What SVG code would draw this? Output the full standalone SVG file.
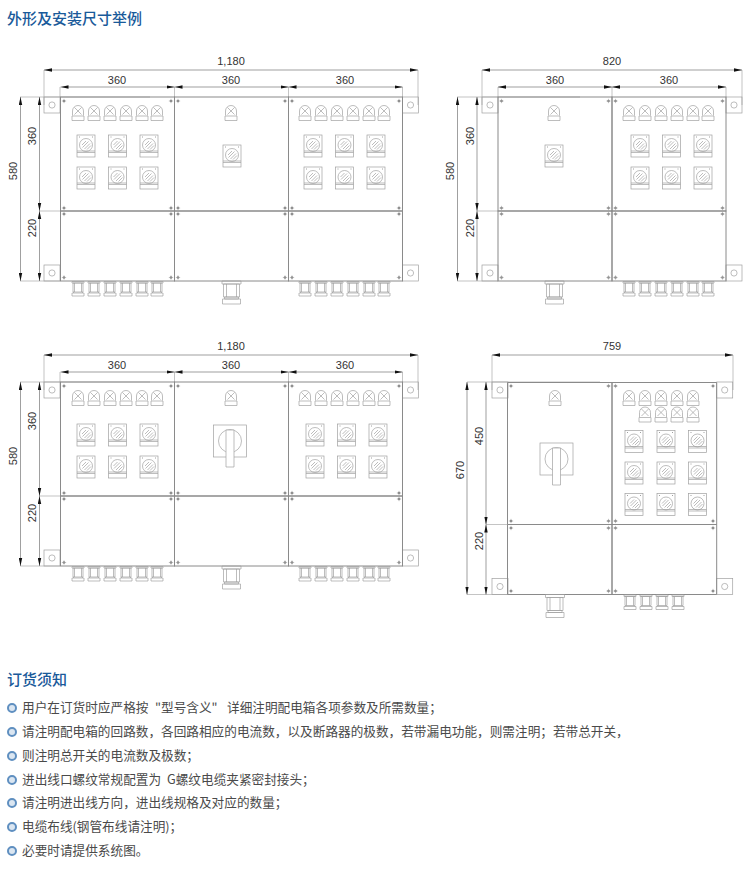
<svg xmlns="http://www.w3.org/2000/svg" width="750" height="871" viewBox="0 0 750 871">
<style>
text{font-family:"Liberation Sans","Noto Sans CJK SC",sans-serif}
.h{font-size:15px;font-weight:500;fill:#1a5a9a;font-family:"Noto Sans CJK SC",sans-serif}
.t{font-size:12.65px;fill:#4a4a4a;font-family:"Noto Sans CJK SC",sans-serif}
.d{font-size:11px;fill:#333;text-anchor:middle}
.s{fill:none;stroke:#a0a0a0;stroke-width:.7}
.f{fill:none;stroke:#8a8a8a;stroke-width:1}
.e{fill:none;stroke:#aaa;stroke-width:.7}
.m{fill:none;stroke:#777;stroke-width:.7;marker-start:url(#a);marker-end:url(#a)}
.o{fill:#dbe6f1;stroke:#5f8fc0;stroke-width:2}
</style>
<defs>
<marker id="a" viewBox="0 0 8 4" refX="8" refY="2" markerWidth="8" markerHeight="4" markerUnits="userSpaceOnUse" orient="auto-start-reverse"><path d="M0 .3L8 2L0 3.7z" fill="#111"/></marker>
<g id="lamp" class="s"><path d="M-5.500 10V5.500a5.500 5.500 0 0 1 11 0V10"/><path d="M-6 10.500h12V15H-6zM-3.500 2l7 7M3.500 2l-7 7"/></g>
<g id="brk" class="s"><rect x="-9" width="18" height="22"/><circle cy="10" r="6.500"/><path d="M-3.500 12.500l6-6M-4 10l4-4M-1.500 14l5.500-5.500M1 14.500l4-4M-9 16h18M-9 17.500h18"/><path d="M-7 2h1M6 2h1" stroke-width="1"/></g>
<g id="gl" class="s"><path d="M-6 .5h12v1.500H-6zM-5 2h10v9H-5zM-3.500 2v9M3.500 2v9M-4 11l-1 1M4 11l1 1M-6 12h12v3H-6z"/></g>
<g id="gb" class="s"><path d="M-9.500 0h19v3h-19zM-8 3H8v13H-8zM-5 3v13M5 3v13M-7 16h14v2H-7zM-9 18H9v5H-9z"/></g>
<g id="sc"><circle r="1.300" fill="#888"/><path d="M-2.200 0h4.400M0-2.200v4.400" stroke="#999" stroke-width=".5"/></g>
<g id="lug" class="s"><rect x="-8" y="-8" width="16" height="16"/><circle r="3.100"/></g>
<g id="rot" class="s"><rect x="-16.500" y="-16" width="33" height="32"/><circle r="11.500"/><path d="M-4-11H4V26H-4z" fill="#fff"/></g>
<g id="cell"><rect class="f" width="114" height="114"/><rect class="f" y="114" width="114" height="70"/><use href="#sc" x="3.500" y="4"/><use href="#sc" x="110.500" y="4"/><use href="#sc" x="3.500" y="111"/><use href="#sc" x="110.500" y="111"/><use href="#sc" x="3.500" y="117"/><use href="#sc" x="110.500" y="117"/><use href="#sc" x="3.500" y="180.500"/><use href="#sc" x="110.500" y="180.500"/></g>
<g id="six"><use href="#lamp" x="0"/><use href="#lamp" x="16"/><use href="#lamp" x="32"/><use href="#lamp" x="48"/><use href="#lamp" x="64"/><use href="#lamp" x="79"/></g>
<g id="gl6"><use href="#gl" x="0"/><use href="#gl" x="16"/><use href="#gl" x="32"/><use href="#gl" x="48"/><use href="#gl" x="64"/><use href="#gl" x="79"/></g>
<g id="b6"><use href="#brk" x="0" y="0"/><use href="#brk" x="31.500" y="0"/><use href="#brk" x="63" y="0"/><use href="#brk" x="0" y="32"/><use href="#brk" x="31.500" y="32"/><use href="#brk" x="63" y="32"/></g>
</defs>

<text class="h" x="7" y="24">外形及安装尺寸举例</text>

<g id="connectors">
<path class="e" d="M44 70V105M60 87V97M174.500 87V97M288.500 87V97M402.500 87V97M418 70V105M20 97H150M39.500 211H60M20 281H60"/>
<path class="m" d="M44 70H418"/><path class="m" d="M60.500 87H174.500"/><path class="m" d="M174.500 87H288.500"/><path class="m" d="M288.500 87H402.500"/>
<path class="m" d="M20.500 97V281"/><path class="m" d="M39.500 97V211"/><path class="m" d="M39.500 211V281"/>
<path class="e" d="M482 70V105M498 87V97M612 87V97M726 87V97M742 70V105M457 97H580M477 211H498M457 281H498"/>
<path class="m" d="M482 70H742"/><path class="m" d="M498 87H612"/><path class="m" d="M612 87H726"/>
<path class="m" d="M457.500 97V281"/><path class="m" d="M477 97V211"/><path class="m" d="M477 211V281"/>
<path class="e" d="M44 355V390M60 372V382M174.500 372V382M288.500 372V382M402.500 372V382M418 355V390M20 382H150M39.500 496H60M20 566H60"/>
<path class="m" d="M44 355H418"/><path class="m" d="M60.500 372H174.500"/><path class="m" d="M174.500 372H288.500"/><path class="m" d="M288.500 372H402.500"/>
<path class="m" d="M20.500 382V566"/><path class="m" d="M39.500 382V496"/><path class="m" d="M39.500 496V566"/>
<path class="e" d="M492 355V390M733 355V390M467 382H600M486 524.500H507M467 594.500H507"/>
<path class="m" d="M492 355H733"/>
<path class="m" d="M467 382V594.500"/><path class="m" d="M486 382V524.500"/><path class="m" d="M486 524.500V594.500"/>
</g>

<g id="dims">
<text class="d" x="231" y="65">1,180</text><text class="d" x="117" y="84">360</text><text class="d" x="231" y="84">360</text><text class="d" x="345" y="84">360</text>
<text class="d" transform="translate(36 136) rotate(-90)">360</text><text class="d" transform="translate(36 228) rotate(-90)">220</text><text class="d" transform="translate(17 171) rotate(-90)">580</text>
<text class="d" x="612" y="65">820</text><text class="d" x="555" y="84">360</text><text class="d" x="669" y="84">360</text>
<text class="d" transform="translate(473.500 136) rotate(-90)">360</text><text class="d" transform="translate(473.500 228) rotate(-90)">220</text><text class="d" transform="translate(454 171) rotate(-90)">580</text>
<text class="d" x="231" y="350">1,180</text><text class="d" x="117" y="369">360</text><text class="d" x="231" y="369">360</text><text class="d" x="345" y="369">360</text>
<text class="d" transform="translate(36 421) rotate(-90)">360</text><text class="d" transform="translate(36 513) rotate(-90)">220</text><text class="d" transform="translate(17 456) rotate(-90)">580</text>
<text class="d" x="612" y="350">759</text>
<text class="d" transform="translate(483 436) rotate(-90)">450</text><text class="d" transform="translate(483 541) rotate(-90)">220</text><text class="d" transform="translate(464 470) rotate(-90)">670</text>
</g>

<g id="cabinet-1">
<use href="#lug" x="52" y="105"/><use href="#lug" x="52" y="273"/><use href="#lug" x="410.500" y="105"/><use href="#lug" x="410.500" y="273"/>
<use href="#cell" x="60.500" y="97"/><use href="#cell" x="174.500" y="97"/><use href="#cell" x="288.500" y="97"/>
<use href="#six" x="78" y="105.500"/><use href="#b6" x="86" y="135"/>
<use href="#lamp" x="231" y="105.500"/><use href="#brk" x="232" y="145"/>
<use href="#six" x="305" y="105.500"/><use href="#b6" x="313" y="135"/>
<use href="#gl6" x="78" y="281"/><use href="#gb" x="231.500" y="281"/><use href="#gl6" x="305" y="281"/>
</g>

<g id="cabinet-2">
<use href="#lug" x="490" y="105"/><use href="#lug" x="490" y="273"/><use href="#lug" x="734" y="105"/><use href="#lug" x="734" y="273"/>
<use href="#cell" x="498" y="97"/><use href="#cell" x="612" y="97"/>
<use href="#lamp" x="554" y="105.500"/><use href="#brk" x="554" y="145"/>
<use href="#six" x="629" y="105.500"/><use href="#b6" x="640" y="135"/>
<use href="#gb" x="554.500" y="281"/><use href="#gl6" x="629" y="281"/>
</g>

<g id="cabinet-3">
<use href="#lug" x="52" y="390"/><use href="#lug" x="52" y="558"/><use href="#lug" x="410.500" y="390"/><use href="#lug" x="410.500" y="558"/>
<use href="#cell" x="60.500" y="382"/><use href="#cell" x="174.500" y="382"/><use href="#cell" x="288.500" y="382"/>
<use href="#six" x="78" y="390.500"/><use href="#b6" x="86" y="424"/>
<use href="#lamp" x="231" y="390.500"/><use href="#rot" x="230" y="441"/>
<use href="#six" x="305" y="390.500"/><use href="#b6" x="315" y="424"/>
<use href="#gl6" x="78" y="566"/><use href="#gb" x="231.500" y="566"/><use href="#gl6" x="305" y="566"/>
</g>

<g id="cabinet-4">
<use href="#lug" x="500" y="390"/><use href="#lug" x="500" y="586.500"/><use href="#lug" x="724.700" y="390"/><use href="#lug" x="724.700" y="586.500"/>
<path class="f" d="M507.500 382.500H612V524.500H507.500zM612 382.500H716.700V524.500H612zM507.500 524.500H612V594.500H507.500zM612 524.500H716.700V594.500H612z"/>
<use href="#sc" x="511" y="386"/><use href="#sc" x="608.500" y="386"/><use href="#sc" x="615.500" y="386"/><use href="#sc" x="713" y="386"/>
<use href="#sc" x="511" y="521"/><use href="#sc" x="608.500" y="521"/><use href="#sc" x="615.500" y="521"/><use href="#sc" x="713" y="521"/>
<use href="#sc" x="511" y="528"/><use href="#sc" x="608.500" y="528"/><use href="#sc" x="615.500" y="528"/><use href="#sc" x="713" y="528"/>
<use href="#sc" x="511" y="591"/><use href="#sc" x="608.500" y="591"/><use href="#sc" x="615.500" y="591"/><use href="#sc" x="713" y="591"/>
<use href="#lamp" x="555" y="390.500"/><use href="#rot" x="556.500" y="459"/>
<use href="#lamp" x="629" y="390.500"/><use href="#lamp" x="645" y="390.500"/><use href="#lamp" x="661" y="390.500"/><use href="#lamp" x="677" y="390.500"/><use href="#lamp" x="693" y="390.500"/>
<use href="#lamp" x="645" y="407"/><use href="#lamp" x="661" y="407"/><use href="#lamp" x="677" y="407"/><use href="#lamp" x="693" y="407"/>
<use href="#brk" x="634" y="430.500"/><use href="#brk" x="666" y="430.500"/><use href="#brk" x="697.500" y="430.500"/>
<use href="#brk" x="634" y="462"/><use href="#brk" x="666" y="462"/><use href="#brk" x="697.500" y="462"/>
<use href="#brk" x="634" y="493.500"/><use href="#brk" x="666" y="493.500"/><use href="#brk" x="697.500" y="493.500"/>
<use href="#gb" x="555" y="594.500"/>
<use href="#gl" x="630" y="594.500"/><use href="#gl" x="646" y="594.500"/><use href="#gl" x="662" y="594.500"/><use href="#gl" x="678" y="594.500"/>
</g>

<text class="h" x="7" y="685">订货须知</text>
<g id="notes">
<circle class="o" cx="12" cy="708" r="4"/><text class="t" x="22" y="712">用户在订货时应严格按</text><text class="t" x="155" y="712">"型号含义"</text><text class="t" x="227" y="712">详细注明配电箱各项参数及所需数量；</text>
<circle class="o" cx="12" cy="732" r="4"/><text class="t" x="22" y="736">请注明配电箱的回路数，各回路相应的电流数，以及断路器的极数，若带漏电功能，则需注明；若带总开关，</text>
<circle class="o" cx="12" cy="756" r="4"/><text class="t" x="22" y="760">则注明总开关的电流数及极数；</text>
<circle class="o" cx="12" cy="780" r="4"/><text class="t" x="22" y="784">进出线口螺纹常规配置为</text><text class="t" x="167" y="784">G螺纹电缆夹紧密封接头；</text>
<circle class="o" cx="12" cy="803" r="4"/><text class="t" x="22" y="807">请注明进出线方向，进出线规格及对应的数量；</text>
<circle class="o" cx="12" cy="827" r="4"/><text class="t" x="22" y="831">电缆布线(钢管布线请注明)；</text>
<circle class="o" cx="12" cy="851" r="4"/><text class="t" x="22" y="855">必要时请提供系统图。</text>
</g>
</svg>
